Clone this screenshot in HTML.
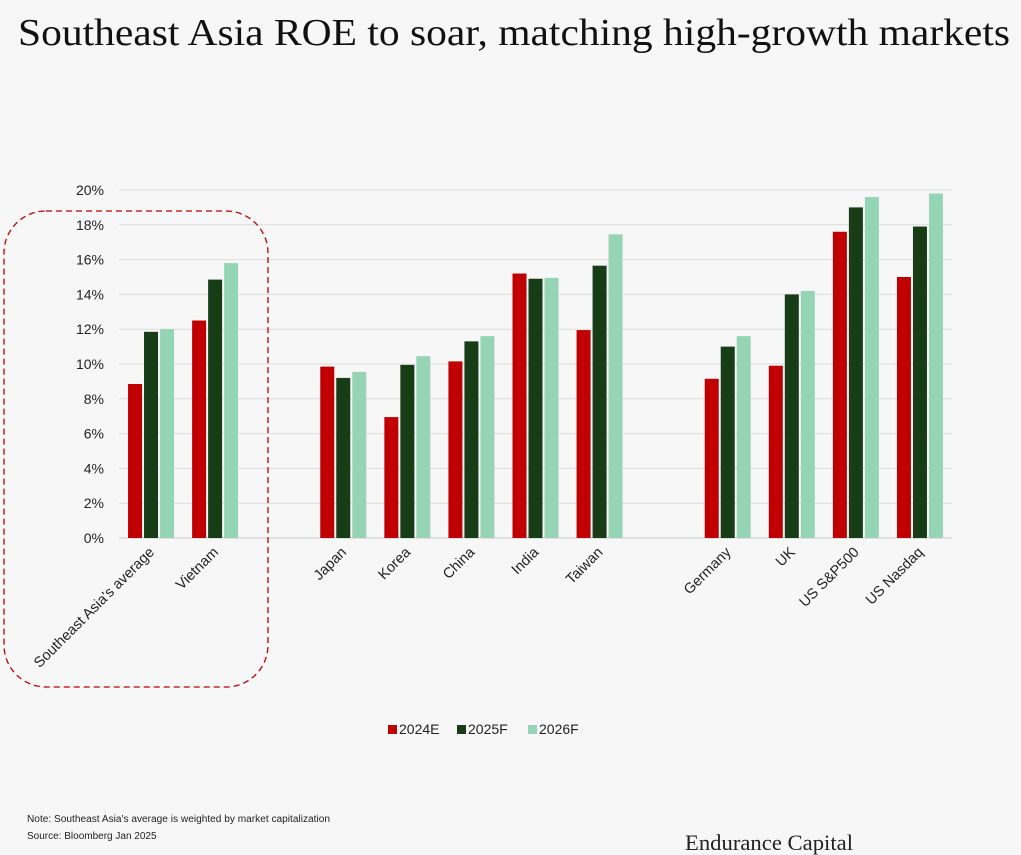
<!DOCTYPE html>
<html><head><meta charset="utf-8">
<style>
html,body{margin:0;padding:0;background:#f7f7f7;}
svg{display:block;font-family:"Liberation Sans",sans-serif;}
</style></head>
<body>
<svg id="chart" width="1021" height="855" viewBox="0 0 1021 855">
<rect width="1021" height="855" fill="#f7f7f7"/>
<text x="18" y="45" font-family="Liberation Serif, serif" font-size="38" fill="#111" textLength="992" lengthAdjust="spacingAndGlyphs">Southeast Asia ROE to soar, matching high-growth markets</text>
<g id="grid"></g>
<g id="ylabels"></g>
<g id="bars"></g>
<g id="xlabels"></g>
<rect x="4" y="211" width="264" height="476" rx="42" ry="42" fill="none" stroke="#c00000" stroke-width="1.3" stroke-dasharray="6,4"/>
<g>
 <rect x="388" y="725" width="9" height="9" fill="#c00000"/>
 <text x="399" y="734" font-size="14" fill="#222">2024E</text>
 <rect x="457" y="725" width="9" height="9" fill="#163d16"/>
 <text x="468" y="734" font-size="14" fill="#222">2025F</text>
 <rect x="528" y="725" width="9" height="9" fill="#95d5b6"/>
 <text x="539" y="734" font-size="14" fill="#222">2026F</text>
</g>
<text x="27" y="822" font-size="10" fill="#222" textLength="303" lengthAdjust="spacingAndGlyphs">Note: Southeast Asia's average is weighted by market capitalization</text>
<text x="27" y="839" font-size="10" fill="#222">Source: Bloomberg Jan 2025</text>
<text x="685" y="850" font-family="Liberation Serif, serif" font-size="22" fill="#222" textLength="168" lengthAdjust="spacingAndGlyphs">Endurance Capital</text>
</svg>
<script>
const categories = ["Southeast Asia's average","Vietnam","","Japan","Korea","China","India","Taiwan","","Germany","UK","US S&P500","US Nasdaq"];
const s2024 = [8.85,12.5,null,9.85,6.95,10.15,15.2,11.95,null,9.15,9.9,17.6,15.0];
const s2025 = [11.85,14.85,null,9.2,9.95,11.3,14.9,15.65,null,11.0,14.0,19.0,17.9];
const s2026 = [12.0,15.8,null,9.55,10.45,11.6,14.95,17.45,null,11.6,14.2,19.6,19.8];
const yTicks = [0,2,4,6,8,10,12,14,16,18,20];
const series = [s2024,s2025,s2026];
const colors = ["#c00000","#163d16","#95d5b6"];
const NS="http://www.w3.org/2000/svg";
const X0=119, X1=952, Y0=538, Y1=190;
const slot=(X1-X0)/categories.length;
const y=v=>Y0-(v/20)*(Y0-Y1);
const xc=i=>X0+slot*(i+0.5);
function mk(t,a,p){const e=document.createElementNS(NS,t);for(const k in a)e.setAttribute(k,a[k]);p.appendChild(e);return e;}
const grid=document.getElementById('grid'),yl=document.getElementById('ylabels'),bars=document.getElementById('bars'),xl=document.getElementById('xlabels');
yTicks.forEach(t=>{
 const l=mk('line',{x1:X0,x2:X1,y1:y(t),y2:y(t),stroke:t===0?'#c8c8c8':'#dcdcdc','stroke-width':1},grid);
 
 
 const tx=mk('text',{x:104,y:y(t)+5,'text-anchor':'end','font-size':14,fill:'#222'},yl);
 tx.textContent=t+'%';
 
 
});
const bw=14,gap=2;
categories.forEach((c,i)=>{
 series.forEach((s,j)=>{
  if(s[i]==null)return;
  const x=xc(i)+(j-1)*(bw+gap)-bw/2;
  const r=mk('rect',{x:x,y:y(s[i]),width:bw,height:Y0-y(s[i]),fill:colors[j]},bars);
  
  
 });
 if(c){
  const t=mk('text',{x:xc(i)+4,y:553,'text-anchor':'end','font-size':14.5,fill:'#222',transform:`rotate(-45 ${xc(i)+4} 553)`},xl);
  t.textContent=c;
  
  
 }
});
</script>
</body></html>
